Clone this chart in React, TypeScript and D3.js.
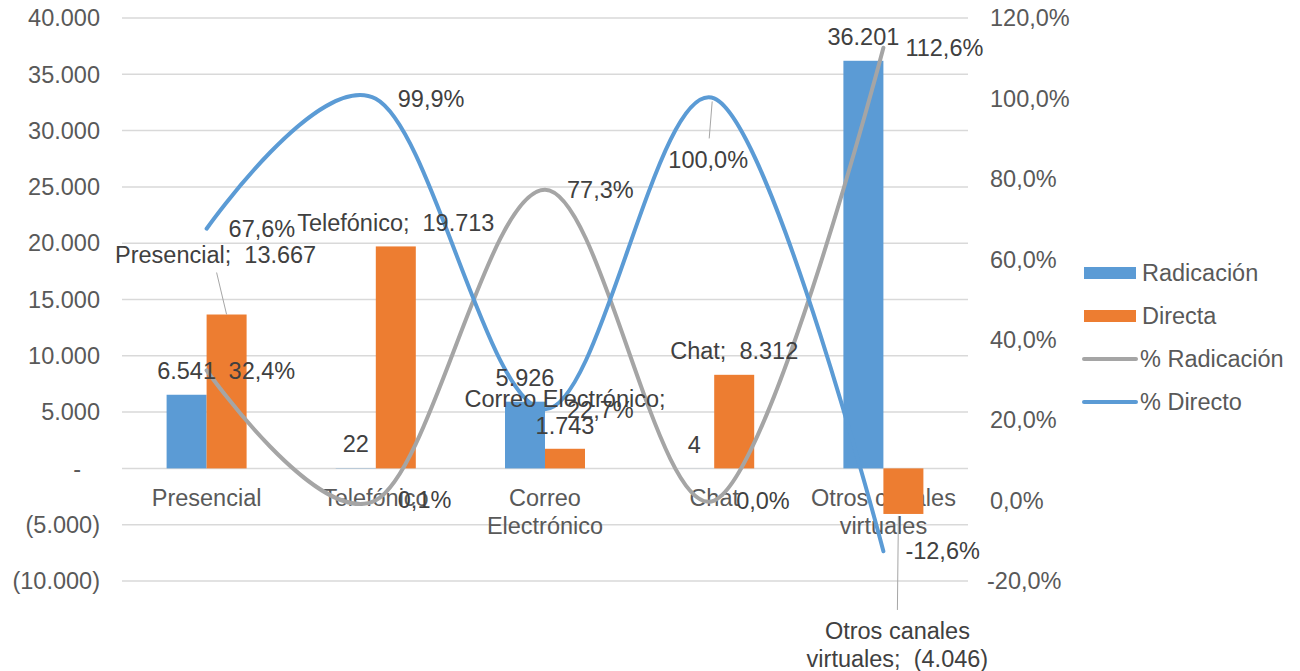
import React, { useEffect, useRef } from "react";
import * as d3 from "d3";

const categories = ["Presencial", "Telefónico", "Correo Electrónico", "Chat", "Otros canales virtuales"];
const categoryLines = [["Presencial"], ["Telefónico"], ["Correo", "Electrónico"], ["Chat"], ["Otros canales", "virtuales"]];
const radicacion = [6541, 22, 5926, 4, 36201];
const directa = [13667, 19713, 1743, 8312, -4046];
const pctRadicacion = [0.324, 0.001, 0.773, 0.0, 1.126];
const pctDirecto = [0.676, 0.999, 0.227, 1.0, -0.126];
const leftTicks = [-10000, -5000, 0, 5000, 10000, 15000, 20000, 25000, 30000, 35000, 40000];
const rightTicks = [-0.2, 0, 0.2, 0.4, 0.6, 0.8, 1.0, 1.2];

const BLUE = "#5B9BD5";
const ORANGE = "#ED7D31";
const GRAY = "#A5A5A5";
const AXIS_TXT = "#595959";
const LBL_TXT = "#404040";
const FONT = "'Liberation Sans', Arial, sans-serif";
const FS = 23.5;
const SEP = ";\u00a0 ";

const numFmt = (v: number) => {
  if (v === 0) return "-";
  const s = d3.format(",.0f")(Math.abs(v)).replace(/,/g, ".");
  return v < 0 ? `(${s})` : s;
};
const pctFmt = (v: number) =>
  (v < 0 ? "-" : "") + d3.format(".1f")(Math.abs(v) * 100).replace(".", ",") + "%";

const App: React.FC = () => {
  const svgRef = useRef<SVGSVGElement>(null);

  useEffect(() => {
    if (!svgRef.current) return;
    const svg = d3.select(svgRef.current);
    svg.selectAll("*").remove();

    const x = d3.scaleBand<string>().domain(categories).range([122, 968]);
    const yL = d3.scaleLinear().domain([-10000, 40000]).range([581, 18]);
    const yR = d3.scaleLinear().domain([-0.2, 1.2]).range([581, 18]);
    const bw = x.bandwidth();
    const barW = 40;
    const cx = (i: number) => (x(categories[i]) as number) + bw / 2;

    // gridlines
    svg
      .append("g")
      .selectAll("line")
      .data(leftTicks)
      .join("line")
      .attr("x1", 122)
      .attr("x2", 968)
      .attr("y1", (d) => yL(d))
      .attr("y2", (d) => yL(d))
      .attr("stroke", "#D9D9D9")
      .attr("stroke-width", 1.5);

    // left axis labels
    svg
      .append("g")
      .selectAll("text")
      .data(leftTicks)
      .join("text")
      .attr("x", (d) => (d === 0 ? 81 : 100))
      .attr("y", (d) => yL(d))
      .attr("dy", "0.35em")
      .attr("text-anchor", "end")
      .attr("fill", AXIS_TXT)
      .style("font", `${FS}px ${FONT}`)
      .text((d) => numFmt(d));

    // right axis labels
    svg
      .append("g")
      .selectAll("text")
      .data(rightTicks)
      .join("text")
      .attr("x", (d) => (d < 0 ? 987 : 990))
      .attr("y", (d) => yR(d))
      .attr("dy", "0.35em")
      .attr("fill", AXIS_TXT)
      .style("font", `${FS}px ${FONT}`)
      .text((d) => pctFmt(d));

    // category labels
    const cat = svg.append("g");
    categoryLines.forEach((lines, i) => {
      lines.forEach((ln, j) => {
        cat
          .append("text")
          .attr("x", cx(i))
          .attr("y", yL(0) + 29 + j * 28)
          .attr("dy", "0.35em")
          .attr("text-anchor", "middle")
          .attr("fill", AXIS_TXT)
          .style("font", `${FS}px ${FONT}`)
          .text(ln);
      });
    });

    // bars
    const bars = svg.append("g");
    bars
      .selectAll("rect.rad")
      .data(radicacion)
      .join("rect")
      .attr("x", (_, i) => cx(i) - barW)
      .attr("width", barW)
      .attr("y", (d) => Math.min(yL(d), yL(0)))
      .attr("height", (d) => Math.abs(yL(d) - yL(0)))
      .attr("fill", BLUE);
    bars
      .selectAll("rect.dir")
      .data(directa)
      .join("rect")
      .attr("x", (_, i) => cx(i))
      .attr("width", barW)
      .attr("y", (d) => Math.min(yL(d), yL(0)))
      .attr("height", (d) => Math.abs(yL(d) - yL(0)))
      .attr("fill", ORANGE);

    // smooth lines
    const line = d3
      .line<number>()
      .x((_, i) => cx(i))
      .y((d) => yR(d))
      .curve(d3.curveCatmullRom.alpha(0));
    svg
      .append("path")
      .attr("d", line(pctRadicacion))
      .attr("fill", "none")
      .attr("stroke", GRAY)
      .attr("stroke-width", 4)
      .attr("stroke-linecap", "round");
    svg
      .append("path")
      .attr("d", line(pctDirecto))
      .attr("fill", "none")
      .attr("stroke", BLUE)
      .attr("stroke-width", 4)
      .attr("stroke-linecap", "round");

    // data labels
    const lbl = svg.append("g").style("font", `${FS}px ${FONT}`).attr("fill", LBL_TXT);
    const addText = (tx: number, ty: number, t: string, anchor = "middle") =>
      lbl
        .append("text")
        .attr("x", tx)
        .attr("y", ty)
        .attr("dy", "0.35em")
        .attr("text-anchor", anchor)
        .text(t);
    const leader = (x1: number, y1: number, x2: number, y2: number) =>
      lbl
        .append("line")
        .attr("x1", x1)
        .attr("y1", y1)
        .attr("x2", x2)
        .attr("y2", y2)
        .attr("stroke", "#A6A6A6")
        .attr("stroke-width", 1);

    // Radicación labels (above bar)
    radicacion.forEach((v, i) => {
      addText(cx(i) - barW / 2, yL(v) - 24, numFmt(v));
    });

    // Directa labels
    const bTop = (i: number) => yL(directa[i]);
    leader(cx(0) + 10, bTop(0) - 42, cx(0) + 20, bTop(0));
    addText(cx(0) + 9, bTop(0) - 60, `${categories[0]}${SEP}${numFmt(directa[0])}`);
    addText(cx(1) + barW / 2, bTop(1) - 24, `${categories[1]}${SEP}${numFmt(directa[1])}`);
    addText(cx(2) + barW / 2, bTop(2) - 50, `${categories[2]};`);
    addText(cx(2) + barW / 2, bTop(2) - 23, numFmt(directa[2]));
    addText(cx(3) + barW / 2, bTop(3) - 24, `${categories[3]}${SEP}${numFmt(directa[3])}`);
    leader(cx(4) + 15, bTop(4) + 2, cx(4) + 14, bTop(4) + 96);
    addText(cx(4) + 14, bTop(4) + 117, "Otros canales");
    addText(cx(4) + 14, bTop(4) + 145, `virtuales${SEP}${numFmt(directa[4])}`);

    // percentage labels
    pctRadicacion.forEach((v, i) => {
      addText(cx(i) + 22, yR(v), pctFmt(v), "start");
    });
    pctDirecto.forEach((v, i) => {
      if (i === 3) {
        leader(cx(i) - 2, yR(v) + 3, cx(i) - 5, yR(v) + 40);
        addText(cx(i) - 6, yR(v) + 61, pctFmt(v));
      } else {
        addText(cx(i) + 22, yR(v), pctFmt(v), "start");
      }
    });

    // legend
    const legendItems = [
      { name: "Radicación", color: BLUE, type: "rect" },
      { name: "Directa", color: ORANGE, type: "rect" },
      { name: "% Radicación", color: GRAY, type: "line" },
      { name: "% Directo", color: BLUE, type: "line" },
    ];
    const lg = svg.append("g").attr("transform", "translate(1084,273)");
    legendItems.forEach((it, i) => {
      const g = lg.append("g").attr("transform", `translate(0,${i * 43})`);
      if (it.type === "rect") {
        g.append("rect").attr("x", 0).attr("y", -6).attr("width", 52).attr("height", 12).attr("fill", it.color);
      } else {
        g.append("line")
          .attr("x1", 0)
          .attr("x2", 52)
          .attr("stroke", it.color)
          .attr("stroke-width", 4)
          .attr("stroke-linecap", "round");
      }
      g.append("text")
        .attr("x", it.type === "rect" ? 58 : 56)
        .attr("dy", "0.35em")
        .attr("fill", AXIS_TXT)
        .style("font", `${FS}px ${FONT}`)
        .text(it.name);
    });
  }, []);

  return (
    <svg
      ref={svgRef}
      width={1300}
      height={671}
      style={{ position: "absolute", left: 0, top: 0, background: "#fff" }}
    />
  );
};

export default App;
